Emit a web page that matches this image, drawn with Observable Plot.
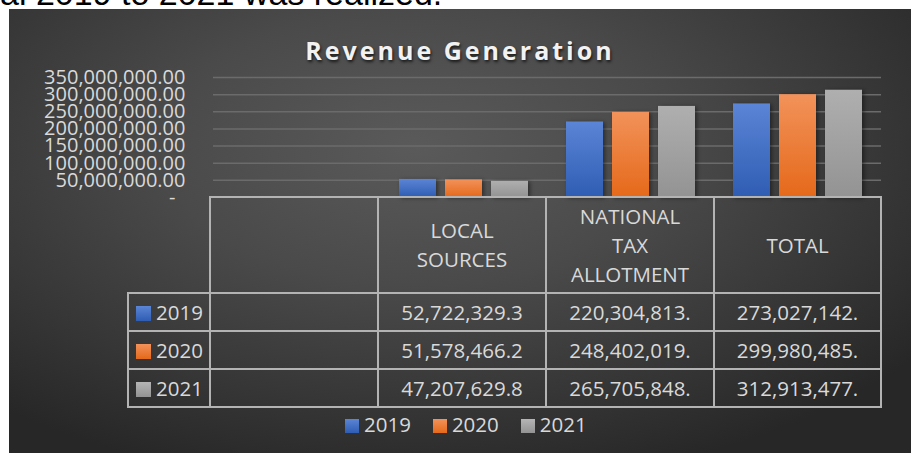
<!DOCTYPE html>
<html>
<head>
<meta charset="utf-8">
<script src="https://cdn.jsdelivr.net/npm/d3@7"></script>
<script src="https://cdn.jsdelivr.net/npm/@observablehq/plot@0.6"></script>
<style>
  html, body { margin: 0; padding: 0; background: #ffffff; width: 914px; height: 453px; overflow: hidden; }
  body { position: relative; font-family: 'Open Sans', sans-serif; }
  #lead { position: absolute; left: 0; top: -24px; font-family: 'Liberation Sans', sans-serif; font-size: 34px; line-height: 34px; color: #000; white-space: nowrap; }
  #panel { position: absolute; left: 9px; top: 9px; width: 902px; height: 460px;
    background: radial-gradient(ellipse 70% 75% at 45% 30%, #5a5a5a 0%, #4a4a4a 40%, #363636 75%, #272727 100%); }
  #chart { position: absolute; left: 0; top: 0; }
  #title { position: absolute; left: 0; top: 36px; width: 920px; text-align: center; font-family: 'Open Sans', sans-serif; font-weight: 700;
    font-size: 25px; line-height: 28px; letter-spacing: 3px; color: #f2f2f2; text-shadow: 1px 2px 3px rgba(0,0,0,0.7); }
  #table { position: absolute; left: 127px; top: 196px; border-collapse: collapse; table-layout: fixed; color: #d9d9d9;
    font-family: 'Open Sans', sans-serif; font-size: 20.5px; }
  #table td { border: 2px solid #b3b3b3; padding: 0; text-align: center; vertical-align: middle; overflow: hidden; white-space: nowrap; }
  #table tr.head td { height: 94px; line-height: 29px; }
  #table tr.head td.blank { border-top: none; border-left: none; }
  #table tr.row td { height: 36px; line-height: 36px; }
  #table td.key { text-align: left; padding-left: 7px; }
  .sw { display: inline-block; width: 15px; height: 15px; margin-right: 5px; vertical-align: -1px; }
  #legend { position: absolute; left: 345px; top: 410px; color: #d9d9d9; font-family: 'Open Sans', sans-serif; font-size: 20.5px; line-height: 28px; white-space: nowrap; }
  #legend span.item { margin-right: 22px; }
  #legend .lk { display: inline-block; width: 14px; height: 14px; margin-right: 5px; vertical-align: -1px; }
</style>
</head>
<body>
<div id="lead">al 2019 to 2021 was realized.</div>
<div id="panel"></div>
<div id="chart"></div>
<div id="title">Revenue Generation</div>
<table id="table"></table>
<div id="legend"></div>
<script>
// ---- data ----
const categories = ["LOCAL SOURCES", "NATIONAL TAX ALLOTMENT", "TOTAL"];
const headerLines = [["LOCAL", "SOURCES"], ["NATIONAL", "TAX", "ALLOTMENT"], ["TOTAL"]];
const years = ["2019", "2020", "2021"];
const values2019 = [52722329.30, 220304813, 273027142];
const values2020 = [51578466.20, 248402019, 299980485];
const values2021 = [47207629.80, 265705848, 312913477];
const yTicks = [0, 50000000, 100000000, 150000000, 200000000, 250000000, 300000000, 350000000];

const series = [values2019, values2020, values2021];
const gradIds = ["gBlue", "gOrange", "gGrey"];

const rows = years.flatMap((yr, i) => categories.map((c, j) => ({ category: c, year: yr, value: series[i][j] })));
const facetDomain = ["", ...categories];
const gridRows = facetDomain.flatMap(c => yTicks.filter(t => t > 0).map(t => ({ category: c, value: t })));

const fmt = d3.format(",.2f");
const tickFmt = d => d === 0 ? "-\u2002" : fmt(d);

const node = Plot.plot({
  width: 914,
  height: 200,
  marginTop: 77,
  marginBottom: 3,
  marginLeft: 211,
  marginRight: 32,
  style: { background: "transparent", color: "#d9d9d9", fontFamily: "'Open Sans', sans-serif", fontSize: "20px", overflow: "visible" },
  fx: { domain: facetDomain, padding: 0, axis: null, label: null },
  x: { domain: years, paddingInner: 0.2, paddingOuter: 0.41, axis: null },
  y: { domain: [0, 350000000], ticks: yTicks, tickFormat: tickFmt, tickSize: 0, tickPadding: 28, label: null },
  color: { domain: years, range: gradIds.map(id => `url(#${id})`) },
  marks: [
    Plot.ruleY(gridRows, { fx: "category", y: "value", stroke: "#6b6b6b", strokeWidth: 1.5 }),
    Plot.barY(rows, { fx: "category", x: "year", y: "value", fill: "year" })
  ]
});
const svg = node.tagName.toLowerCase() === "svg" ? node : node.querySelector("svg");
svg.insertAdjacentHTML("afterbegin", `
<defs>
  <linearGradient id="gBlue" x1="0" y1="0" x2="0" y2="1"><stop offset="0" stop-color="#5b85d6"/><stop offset="1" stop-color="#2f5db3"/></linearGradient>
  <linearGradient id="gOrange" x1="0" y1="0" x2="0" y2="1"><stop offset="0" stop-color="#f2925a"/><stop offset="1" stop-color="#e5691a"/></linearGradient>
  <linearGradient id="gGrey" x1="0" y1="0" x2="0" y2="1"><stop offset="0" stop-color="#afafaf"/><stop offset="1" stop-color="#939393"/></linearGradient>
</defs>`);
svg.querySelectorAll("rect").forEach(r => r.style.filter = "drop-shadow(2px 1px 2px rgba(0,0,0,0.45))");
document.getElementById("chart").appendChild(node);

// ---- data table ----
const swatchCss = [
  "linear-gradient(#5b85d6,#2f5db3)",
  "linear-gradient(#f2925a,#e5691a)",
  "linear-gradient(#b5b5b5,#939393)"
];
const table = document.getElementById("table");
const colgroup = document.createElement("colgroup");
[82, 168, 168, 168, 167].forEach(w => { const c = document.createElement("col"); c.style.width = w + "px"; colgroup.appendChild(c); });
table.appendChild(colgroup);
const head = document.createElement("tr"); head.className = "head";
const blankKey = document.createElement("td"); blankKey.className = "blank"; head.appendChild(blankKey);
head.appendChild(document.createElement("td"));
headerLines.forEach(lines => { const td = document.createElement("td"); td.innerHTML = lines.join("<br>"); head.appendChild(td); });
table.appendChild(head);
years.forEach((yr, i) => {
  const tr = document.createElement("tr"); tr.className = "row";
  const key = document.createElement("td"); key.className = "key";
  key.innerHTML = `<span class="sw" style="background:${swatchCss[i]}"></span>${yr}`;
  tr.appendChild(key);
  tr.appendChild(document.createElement("td"));
  series[i].forEach(v => { const td = document.createElement("td"); td.textContent = fmt(v).slice(0, 12); tr.appendChild(td); });
  table.appendChild(tr);
});

// ---- legend ----
const legend = document.getElementById("legend");
years.forEach((yr, i) => {
  const s = document.createElement("span"); s.className = "item";
  s.innerHTML = `<span class="lk" style="background:${swatchCss[i]}"></span>${yr}`;
  legend.appendChild(s);
});
</script>
</body>
</html>
